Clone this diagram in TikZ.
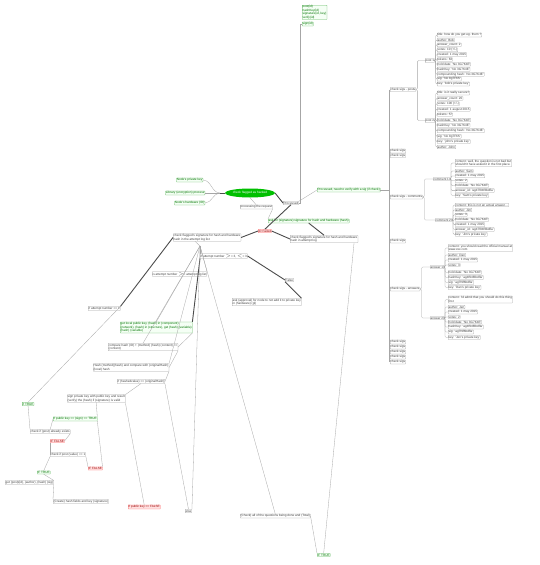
\documentclass[tikz,border=0pt]{standalone}
\usepackage{fontspec}
\setmainfont{Liberation Sans}
\usetikzlibrary{shapes.geometric}
\tikzset{
 bx/.style={draw=black!35, fill=white, line width=0.25pt, rounded corners=0.4pt, inner sep=0.5pt, font=\fontsize{3.1}{3.5}\selectfont, align=left, anchor=west, text=black!75},
 gb/.style={bx, draw=green!55!black!60, text=green!45!black, fill=green!4},
 rb/.style={bx, draw=red!55, fill=red!12, text=red!60!black},
 ln/.style={draw=black!35, line width=0.3pt},
 tk/.style={draw=black!70, line width=0.9pt},
 el/.style={ln, rounded corners=1.2pt},
}
\begin{document}
\begin{tikzpicture}[x=1pt,y=-1pt]
\fill[white] (0,0) rectangle (540,565);
\useasboundingbox (0,0) rectangle (540,565);

% ---------- centre ----------
\node[ellipse, fill=green!75!black, text=white, inner sep=0.5pt, minimum width=38pt, minimum height=9pt, font=\fontsize{3.1}{3.5}\selectfont] (centre) at (250,193) {check flagged as hacked};

\node[gb, anchor=east] (l1) at (203,180) {Node's private key};
\node[gb, anchor=east] (l2) at (205,193) {Library (encryption) process};
\node[gb, anchor=east] (l3) at (205,203) {Node's hardware (ID)};
\coordinate (j1) at (220,193);
\draw[ln] (l1.east) to[out=0,in=180] (j1);
\draw[ln] (l2.east) -- (j1);
\draw[ln] (l3.east) to[out=0,in=180] (j1);
\draw[tk] (j1) -- (centre.west);

\node[bx] (proc) at (240,207) {processing the request};
\node[bx] (done) at (283,203) {Processed};
\draw[ln] (centre.south) -- (proc.north);
\draw[tk] (centre.east) -- (done.west);

% ---------- top stack ----------
\node[gb, anchor=north west] (top) at (302,5) {post(id)\\hashKey(id)\\signature(id, key)\\verify(id)};
\node[gb] (top2) at (302,24) {sign(id)};
\draw[ln] (done.east) -- (300,203) -- (300,24) -- (top2.west);

% ---------- processed, need to verify ----------
\node[gb] (need) at (317,190) {Processed, need to verify with a sig (if check)};
\draw[ln] (done.north east) -- (need.west);

% ---------- right tree ----------
\draw[ln] (need.east) -- (389.5,190);
\draw[ln] (389.5,89.5) -- (389.5,362);

\node[bx] (sp1) at (390,89.5) {check sigs - posts};
\node[bx] (p1) at (425,60.5) {post 1};
\node[bx] (p2) at (425,120.5) {post 2};
\draw[el] (sp1.east) -- ++(1.5,0) |- (p1.west);
\draw[el] (sp1.east) -- ++(1.5,0) |- (p2.west);
\foreach \t [count=\i] in {{title: how do you get eg. them ?},{author: Bob},{answer\_count: 2},{votes: 10 (+/-)},{created: 1 may 2015},{tokens: 63},{hold date: 'No 3G7K4E'},{hashKey: 'No 3G7K4E'},{compounding hash: 'No 3G7K4E'},{sig: 'No 8g7F6S'},{key: 'bob's private key'}}{
  \node[bx] (p1c\i) at (437,{35+(\i-1)*4.9}) {\t};
  \draw[el] (p1.east) -- ++(1,0) |- (p1c\i.west);
}
\foreach \t [count=\i] in {{title: is it really secure?},{answer\_count: 20},{votes: 100 (+/-)},{created: 1 august 2015},{tokens: 57},{hold date: 'No 3G7K4E'},{hashKey: 'No 3G7K4E'},{compounding hash: 'No 3G7K4E'},{sig: 'No 8g7F6S'},{key: 'john's private key'},{author: John}}{
  \node[bx] (p2c\i) at (437,{93+(\i-1)*5.4}) {\t};
  \draw[el] (p2.east) -- ++(1,0) |- (p2c\i.west);
}

\node[bx] (cs1) at (390,151) {check sigs};
\node[bx] (cs2) at (390,155.5) {check sigs};
\node[bx] (spc) at (390,197) {check sigs - comments};
\node[bx] (c1) at (433,179) {comment 1};
\node[bx] (c2) at (435,220) {comment 2};
\draw[el] (spc.east) -- ++(1.5,0) |- (c1.west);
\draw[el] (spc.east) -- ++(1.5,0) |- (c2.west);
\node[bx] (c1a) at (455,163) {content: well, the question is not bad but\\shouldn't have asked it in the first place.};
\draw[el] (c1.east) -- ++(1.5,0) |- (c1a.west);
\foreach \t [count=\i] in {{author: Sam},{created: 1 may 2015},{votes: 2},{hold date: 'No 3G7K4E'},{answer\_id: 'ag47f94f6bdfla'},{key: 'Sam's private key'}}{
  \node[bx] (c1c\i) at (455,{171+(\i-1)*4.9}) {\t};
  \draw[el] (c1.east) -- ++(1.5,0) |- (c1c\i.west);
}
\foreach \t [count=\i] in {{content: this is not an actual answer\ldots},{author: Jim},{votes: 3},{hold date: 'No 3G7K4E'},{created: 1 may 2015},{answer\_id: 'ag47f94f6bdfla'},{key: 'Jim's private key'}}{
  \node[bx] (c2c\i) at (455,{205+(\i-1)*4.9}) {\t};
  \draw[el] (c2.east) -- ++(1.5,0) |- (c2c\i.west);
}

\node[bx] (cs3) at (390,241) {check sigs};
\node[bx] (spa) at (390,289) {check sigs - answers};
\node[bx] (a1) at (430,267) {answer 1};
\node[bx] (a2) at (430,318) {answer 2};
\draw[el] (spa.east) -- ++(1.5,0) |- (a1.west);
\draw[el] (spa.east) -- ++(1.5,0) |- (a2.west);
\node[bx] (a1a) at (448,248) {content: you should read the official manual at\\www.xxx.com};
\draw[el] (a1.east) -- ++(1.2,0) |- (a1a.west);
\foreach \t/\y [count=\i] in {{author: Dan}/255,{created: 1 may 2015}/260,{votes: 3}/265,{hold date: 'No 3G7K4E'}/272.5,{hashKey: 'ag4f94f6bdfla'}/277.5,{sig: 'ag7f9f6bdfla'}/282.5,{key: 'Dan's private key'}/287.5}{
  \node[bx] (a1c\i) at (448,\y) {\t};
  \draw[el] (a1.east) -- ++(1.2,0) |- (a1c\i.west);
}
\node[bx] (a2a) at (448,299.5) {content: I'd admit that you should do this thing\\first};
\draw[el] (a2.east) -- ++(1.2,0) |- (a2a.west);
\foreach \t/\y [count=\i] in {{author: Jen}/307,{created: 1 may 2015}/312,{votes: 2}/317,{hold date: 'No 3G7K4E'}/322,{hashKey: 'ag4f94f6bdfla'}/327,{sig: 'ag7f9f6bdfla'}/332,{key: 'Jen's private key'}/337.5}{
  \node[bx] (a2c\i) at (448,\y) {\t};
  \draw[el] (a2.east) -- ++(1.2,0) |- (a2c\i.west);
}
\foreach \y [count=\i] in {342,347,352,357,362}{
  \node[bx] (cb\i) at (390,\y) {check sigs};
}

% ---------- middle ----------
\node[gb] (ask) at (268,221) {ask for (signature) signature for hash and hardware (hash)};
\node[rb] (idf) at (258,231) {ID Failed};
\node[bx] (chA) at (173,237.5) {check flagged's signature for hash and hardware\\hash in the attempt log list};
\node[bx] (chB) at (290,239) {check flagged's signature for hash and hardware\\hash in attempt log};
\draw[tk] (done.south) -- (idf.north);
\draw[ln] (proc.south east) -- (ask.north west);
\draw[tk] (idf.west) -- (chA.east);
\draw[tk] (idf.east) -- (chB.west);
\draw[tk] (ask.south) -- (chB.north);

\coordinate (hub) at (200,246);
\node[bx] (if3) at (200,256) {if attempt number $>$= 3, $<$= 3};
\node[bx] (isAtt) at (152,274) {is attempt number $>$= attempt log list};
\node[bx] (fal) at (285,280) {False};
\node[bx] (askP) at (232,302) {ask (approval) for node to not add it to private key\\in (hardware) (gl)};
\draw[ln] (chA.south) ++(-12,0) -- (hub);
\draw[ln] (hub) -- (if3.north west);
\draw[ln] (hub) -- (isAtt.north east);
\draw[tk] (if3.east) -- (fal.west);
\draw[tk] (fal.south west) -- (askP.north east);

\node[bx] (if1) at (88,308.5) {if attempt number == 1};
\draw[tk] (chA.west) -- (if1.north east);

\node[gb] (getL) at (120,327.5) {get local public key, (hash) in (component)\\(network), (hash) in (structure), get (hash) (variable)\\(hash) (variable)};
\node[bx] (cmp) at (108,347) {compare hash (ID) + (method) (hash) (content) ==\\(content)};
\node[bx] (hashM) at (93,367.5) {Hash (method)(hash) and compare with (originalHash)\\(local) hash};
\node[bx] (ifO) at (117,381.5) {if (hashedvalue) == (originalHash)};
\node[bx] (sgn) at (67,398.5) {sign private key with public key and result\\(verify) the (hash) if (signature) is valid};
\node[gb] (ifT1) at (22,404) {if TRUE};
\node[gb] (ifPT) at (53,419) {if public key == (sign) == TRUE};
\node[bx] (chE) at (30,431.5) {check if (post) already exists};
\node[rb] (ifF1) at (50,441) {IF FALSE};
\node[bx] (chP) at (50,454.5) {check if post (value) == 1};
\node[rb] (ifF2) at (88,468.5) {IF FALSE};
\node[gb] (ifT2) at (37,472.5) {IF TRUE};
\node[bx] (getP) at (5,482.5) {get (post)(id), (author), (hash) (sig)};
\node[bx] (hF) at (53,501.5) {(Create) hash fields and key (signature)};
\node[rb] (ifPF) at (128,507) {if public key == FALSE};
\node[bx] (els) at (185,511) {else};
\node[bx] (allQ) at (240,516) {(Check) all of the questions being done and (Total)};
\node[gb] (ifT3) at (317,555) {IF TRUE};

\draw[tk] (if3.south west) -- (getL.north east);
\draw[ln] (hub) -- (getL.north);
\draw[ln] (hub) -- (cmp.north);
\draw[ln] (hub) -- (hashM.north east);
\draw[ln] (getL.south east) -- (cmp.east);
\draw[ln] (cmp.south east) -- (hashM.east);
\draw[ln] (hashM.south east) -- (ifO.east);
\draw[ln] (ifO.south) -- (sgn.north east);
\draw[ln] (ifO.south east) -- (els.north);
\draw[ln] (hub) -- (els.north east);
\draw[ln] (hub) -- (allQ.north);
\draw[ln] (sgn.south east) -- (ifPF.north);
\draw[ln] (if1.north east) -- (ifT1.north);
\draw[ln] (sgn.south) -- (ifPT.north east);
\draw[ln] (ifT1.south) -- (chE.north west);
\draw[ln] (ifPT.west) -- (chE.north);
\draw[ln] (chE.south east) -- (ifF1.east);
\draw[ln] (ifF1.south west) -- (chP.west);
\draw[ln] (chP.south east) -- (ifF2.north west);
\draw[ln] (chP.south west) -- (ifT2.north);
\draw[ln] (ifT2.south) -- (getP.north east);
\draw[ln] (getP.south east) -- (hF.north west);
\draw[ln] (ifF2.north east) -- (ifPT.south east);
\draw[ln] (chB.south east) ++(-4,0) -- (ifT3.north);
\draw[ln] (allQ.east) -- (ifT3.north west);
\end{tikzpicture}
\end{document}
